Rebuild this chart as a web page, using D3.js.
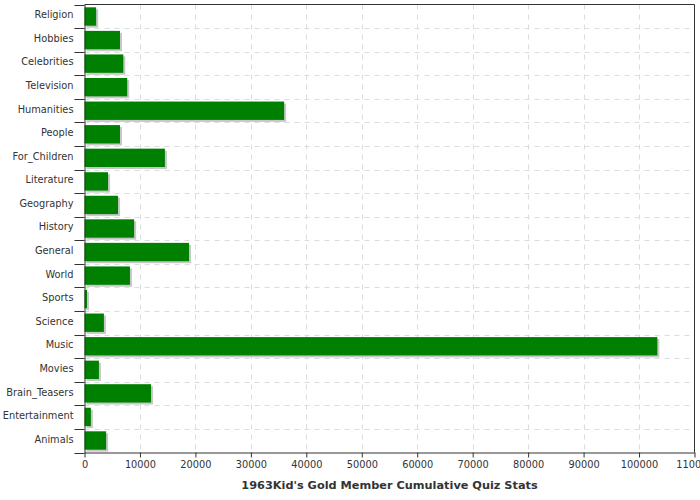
<!DOCTYPE html>
<html><head><meta charset="utf-8">
<script src="https://cdn.jsdelivr.net/npm/d3@7/dist/d3.min.js"></script>
<style>body{margin:0;background:#fff;} svg{display:block;}</style>
</head><body>
<svg id="chart" width="700" height="500"></svg>
<script>
const categories = ["Religion","Hobbies","Celebrities","Television","Humanities","People","For_Children","Literature","Geography","History","General","World","Sports","Science","Music","Movies","Brain_Teasers","Entertainment","Animals"];
const values = [2100,6400,7000,7700,36000,6400,14500,4250,6050,8950,18850,8200,450,3500,103300,2600,12000,1150,3900];
const xTicks = [0,10000,20000,30000,40000,50000,60000,70000,80000,90000,100000,110000];
const title = "1963Kid's Gold Member Cumulative Quiz Stats";

const svg = d3.select("#chart");
const m = {left:84.5, right:694.5, top:4.5, bottom:452.5};
const x = d3.scaleLinear().domain([0,110000]).range([m.left, m.right]);
const y = d3.scaleBand().domain(categories).range([m.top, m.bottom]).paddingInner(0.22).paddingOuter(0.12);
const yb = d3.scaleBand().domain(categories).range([m.top, m.bottom]);
const font = "DejaVu Sans, sans-serif";

// gridlines
const grid = svg.append("g");
grid.selectAll("line.v").data(xTicks.slice(1, -1)).join("line")
  .attr("x1", d => Math.round(x(d))+0.5).attr("x2", d => Math.round(x(d))+0.5)
  .attr("y1", m.top).attr("y2", m.bottom)
  .attr("stroke", "#d8dde0").attr("stroke-dasharray", "5,5");
grid.selectAll("line.h").data(categories.slice(1)).join("line")
  .attr("y1", d => Math.round(yb(d))+0.5).attr("y2", d => Math.round(yb(d))+0.5)
  .attr("x1", m.left).attr("x2", m.right)
  .attr("stroke", "#d8dde0").attr("stroke-dasharray", "5,5");

// shadows
svg.append("g").selectAll("rect").data(values).join("rect")
  .attr("x", x(0)+2).attr("y", (d,i) => y(categories[i])+2)
  .attr("width", d => x(d)-x(0)).attr("height", y.bandwidth())
  .attr("fill", "#c8c8c8");
// bars
svg.append("g").selectAll("rect").data(values).join("rect")
  .attr("x", x(0)).attr("y", (d,i) => y(categories[i]))
  .attr("width", d => x(d)-x(0)).attr("height", y.bandwidth())
  .attr("fill", "#008000");

// frame
svg.append("line").attr("x1", m.right).attr("x2", m.right).attr("y1", m.top).attr("y2", m.bottom).attr("stroke", "#333");
svg.append("line").attr("x1", m.left).attr("x2", m.right).attr("y1", m.top).attr("y2", m.top).attr("stroke", "#333");

// y axis
const yAxis = svg.append("g").attr("transform", `translate(${m.left},0)`)
  .call(d3.axisLeft(yb).tickSize(0).tickPadding(11));
yAxis.select(".domain").attr("stroke", "#333");
yAxis.selectAll("text").attr("font-family", font).attr("font-size", "9.8px").attr("fill", "#333").attr("dy", "0.2em");
svg.append("g").selectAll("line").data(categories.concat(["__end"])).join("line")
  .attr("x1", m.left-10).attr("x2", m.left)
  .attr("y1", (d,i) => Math.round(i < categories.length ? yb(d) : m.bottom)+0.5)
  .attr("y2", (d,i) => Math.round(i < categories.length ? yb(d) : m.bottom)+0.5)
  .attr("stroke", "#333");

// x axis
const xAxis = svg.append("g").attr("transform", `translate(0,${m.bottom})`)
  .call(d3.axisBottom(x).tickValues(xTicks).tickFormat(d3.format("d")).tickSize(5).tickPadding(4).tickSizeOuter(0));
xAxis.select(".domain").attr("stroke", "#333");
xAxis.selectAll(".tick line").attr("stroke", "#333");
xAxis.selectAll("text").attr("font-family", font).attr("font-size", "9.8px").attr("fill", "#333");

svg.append("text").attr("x", (m.left+m.right)/2).attr("y", 489)
  .attr("text-anchor", "middle").attr("font-family", font).attr("font-size", "11.3px")
  .attr("font-weight", "bold").attr("fill", "#333").text(title);
</script>
</body></html>
